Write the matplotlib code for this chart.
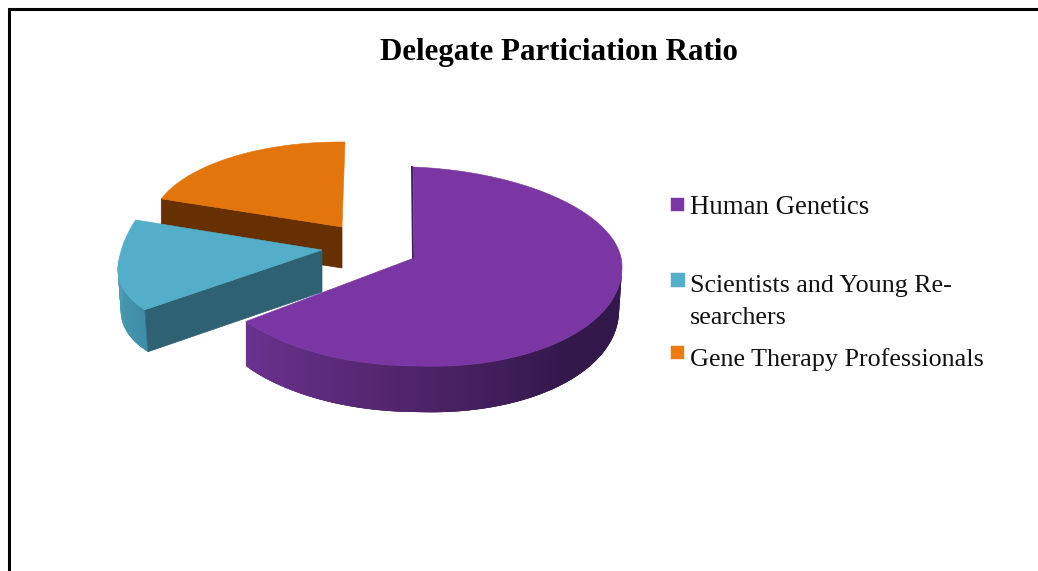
import numpy as np
import matplotlib
matplotlib.use("Agg")
import matplotlib.pyplot as plt
from matplotlib.patches import Polygon, Rectangle
from matplotlib.colors import to_rgb

TITLE = "Delegate Particiation Ratio"
categories = ["Human Genetics", "Scientists and Young Re-\nsearchers", "Gene Therapy Professionals"]
shares = [65, 15, 20]
top_colors = ["#7A37A3", "#52AEC9", "#E3750D"]
legend_colors = ["#7A37A3", "#52AEC9", "#EE7A12"]

# Pixel layout of the hand-drawn perspective of each exploded slice
LAYOUT = [
    dict(apex=(414, 258), u_r=(208, 8), u_l=(210, 0), v_up=(-1, -91), v_lo=(-3, -108), depth=43, sag=3, shift=-3,
         cut="#3A1D55"),
    dict(apex=(322, 250), u_r=(203, -10), u_l=(203, -10), v_up=(22, -128), v_lo=(22, -88), depth=42, sag=0, shift=3,
         cut="#2E6273"),
    dict(apex=(342, 227), u_r=(191, 2), u_l=(191, 2), v_up=(3, -85), v_lo=(3, -85), depth=41, sag=0, shift=0,
         cut="#663000"),
]


def outer(t, L):
    s, c = np.sin(t), np.cos(t)
    u = L["u_r"] if s >= 0 else L["u_l"]
    v = L["v_up"] if c >= 0 else L["v_lo"]
    return np.array([L["apex"][0] + u[0] * s + v[0] * c, L["apex"][1] + u[1] * s + v[1] * c])


def mix(stops, f):
    fs = [p for p, _ in stops]
    return tuple(np.interp(f, fs, [to_rgb(col)[i] for _, col in stops]) for i in range(3))


def rim(L, angles, stops, z):
    """Shaded outer wall: each strip overlaps the next, so no seams show."""
    def drop(t):
        return np.array([L["shift"] * max(np.sin(t), 0) if L["sag"] else L["shift"],
                         L["depth"] + L["sag"] * max(-np.cos(t), 0)])
    for k in range(len(angles) - 1):
        a, b = angles[k], angles[min(k + 3, len(angles) - 1)]
        pa, pb = outer(a, L), outer(b, L)
        col = mix(stops, a)
        ax.add_patch(Polygon([pa, pb, pb + drop(b), pa + drop(a)], fc=col, ec="none", lw=0, zorder=z))


fig = plt.figure(figsize=(10.38, 5.71), dpi=100)
ax = fig.add_axes([0, 0, 1, 1])
ax.set_xlim(0, 1038)
ax.set_ylim(571, 0)
ax.axis("off")

edges = np.radians(np.concatenate([[0], np.cumsum(shares)]) / sum(shares) * 360)
purple_stops = [(np.radians(90), "#33184C"), (np.radians(135), "#33184C"),
                (np.radians(180), "#4E2468"), (np.radians(234), "#6B3290")]
blue_stops = [(edges[1], "#3F8DA8"), (np.radians(270), "#4C9FB8")]

# slices are painted back to front: orange, blue, purple
for i in [2, 1, 0]:
    L = LAYOUT[i]
    t0, t1 = edges[i], edges[i + 1]
    ts = np.linspace(t0, t1, 160)
    arc = np.array([outer(t, L) for t in ts])
    apex = np.array(L["apex"], float)
    z = 2 + (2 - i) * 3
    d = np.array([L["shift"], L["depth"]], float)

    if i == 1:  # blue: outer rim, then cut face on the near side
        rim(L, ts[ts <= np.radians(272)], blue_stops, z)
        p = outer(t0, L)
        ax.add_patch(Polygon([apex, p, p + d, apex + (0, L["depth"])], fc=L["cut"], ec=L["cut"], lw=0.5, zorder=z + 1))
    elif i == 2:  # orange: only the cut face below the left edge shows
        p = outer(t0, L)
        ax.add_patch(Polygon([apex, p, p + d, apex + d], fc=L["cut"], ec=L["cut"], lw=0.5, zorder=z))
    else:  # purple: shaded rim from the right extreme round to the cut edge
        rim(L, ts[ts >= np.radians(92)][::-1], purple_stops, z)
        ax.plot([apex[0] - 1, arc[0][0] - 1], [apex[1], arc[0][1]], color=L["cut"], lw=1.4, zorder=z + 1)

    ax.add_patch(Polygon(np.vstack([apex, arc]), fc=top_colors[i], ec=top_colors[i], lw=0.4, zorder=z + 2))

# frame: left and top rules only, running off the picture
ax.plot([8.5, 8.5, 1038], [571, 8.5, 8.5], color="black", lw=2.2, solid_joinstyle="miter", zorder=20)

serif = "Liberation Serif"
ax.text(559, 60, TITLE, family=serif, weight="bold", fontsize=22.3, ha="center", va="baseline", color="black")

LEG_BOX = [(671, 198, 13, 13), (671, 273, 14, 14), (671, 346, 13, 13)]
LEG_Y = [[214], [292, 324], [366]]
LEG_SIZE = [19.4, 18.7, 18.85]
for name, col, box, ys, size in zip(categories, legend_colors, LEG_BOX, LEG_Y, LEG_SIZE):
    ax.add_patch(Rectangle(box[:2], box[2], box[3], fc=col, ec=col, lw=0.3, zorder=10))
    for line, y in zip(name.split("\n"), ys):
        ax.text(690, y, line, family=serif, fontsize=size, ha="left", va="baseline", color="#111111")

fig.savefig("out.png", dpi=100)
